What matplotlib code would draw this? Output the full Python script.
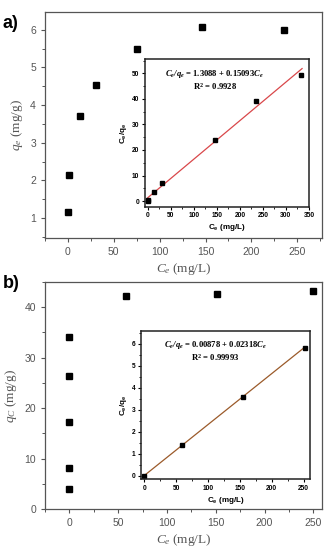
import numpy as np
import matplotlib
matplotlib.use("Agg")
import matplotlib.pyplot as plt
from matplotlib.ticker import MultipleLocator

# panel a: isotherm + linear Langmuir inset
a_ce = [0, 1, 13, 31, 75, 146, 236]
a_qe = [1.17, 2.13, 3.70, 4.53, 5.50, 6.07, 6.00]
a_in_ce = [0, 1, 13, 32, 146, 236, 333]
a_in_ratio = [0.1, 0.5, 3.4, 6.9, 24.1, 39.3, 49.3]
a_fit = (1.3088, 0.15093)
a_fit_range = (0, 335)

# panel b
b_ce = [0, 0, 0, 0, 0, 58, 151, 250]
b_qe = [4.0, 8.1, 17.2, 26.4, 34.2, 42.3, 42.7, 43.2]
b_in_ce = [0, 60, 155, 252]
b_in_ratio = [0.0, 1.4, 3.58, 5.82]
b_fit = (0.00878, 0.02318)
b_fit_range = (0, 252)

SANS = "Liberation Sans"
SERIF = "Liberation Serif"
GRAY = "#555555"

plt.rcParams["mathtext.fontset"] = "custom"
plt.rcParams["mathtext.it"] = "Liberation Serif:italic"
plt.rcParams["mathtext.rm"] = "Liberation Serif"
plt.rcParams["mathtext.bf"] = "Liberation Serif:bold"
plt.rcParams["mathtext.bfit"] = "Liberation Serif:bold:italic"
plt.rcParams["mathtext.sf"] = "Liberation Sans:bold"

fig = plt.figure(figsize=(3.31, 5.5), dpi=100)


def main_axes(rect, xs, ys, xlim, ylim, ymaj, ymin, ylab, tag, tag_y):
    ax = fig.add_axes(rect)
    ax.plot(xs, ys, "s", color="black", ms=4.3)
    ax.set_xlim(*xlim)
    ax.set_ylim(*ylim)
    ax.xaxis.set_major_locator(MultipleLocator(50))
    ax.xaxis.set_minor_locator(MultipleLocator(25))
    ax.yaxis.set_major_locator(MultipleLocator(ymaj))
    ax.yaxis.set_minor_locator(MultipleLocator(ymin))
    for s in ax.spines.values():
        s.set_color(GRAY)
        s.set_linewidth(0.9)
    ax.tick_params(which="both", direction="out", colors=GRAY, top=False, right=False)
    ax.tick_params(which="major", length=3, width=0.8, labelsize=7.5)
    ax.tick_params(which="minor", length=2, width=0.7)
    for lab in ax.get_xticklabels() + ax.get_yticklabels():
        lab.set_fontfamily(SANS)
    ax.set_xlabel(r"$C_e$ (mg/L)", fontsize=9.5, family=SERIF, color=GRAY, labelpad=3)
    ax.set_ylabel(ylab, fontsize=9.5, family=SERIF, color=GRAY, labelpad=4)
    fig.text(0.008, tag_y, tag, fontsize=13, fontweight="bold", family=SANS, va="center")
    return ax


def inset_axes(rect, xs, ys, fit, frange, color, xlim, ylim, xmaj, ymaj, ymin, eq, eqpos):
    ax = fig.add_axes(rect)
    xf = np.array(frange)
    ax.plot(xf, fit[0] + fit[1] * xf, color=color, lw=0.9)
    ax.plot(xs, ys, "s", color="black", ms=3)
    ax.set_xlim(*xlim)
    ax.set_ylim(*ylim)
    ax.xaxis.set_major_locator(MultipleLocator(xmaj))
    ax.xaxis.set_minor_locator(MultipleLocator(xmaj / 2))
    ax.yaxis.set_major_locator(MultipleLocator(ymaj))
    ax.yaxis.set_minor_locator(MultipleLocator(ymin))
    for s in ax.spines.values():
        s.set_color("#222222")
        s.set_linewidth(1.1)
    ax.tick_params(which="both", direction="out", top=False, right=False)
    ax.tick_params(which="major", length=2.5, width=0.8, labelsize=4.8, pad=1.5)
    ax.tick_params(which="minor", length=1.5, width=0.6)
    for lab in ax.get_xticklabels() + ax.get_yticklabels():
        lab.set_fontfamily(SANS)
        lab.set_fontweight("bold")
    ax.set_xlabel(r"$\mathsf{C_e}$ (mg/L)", fontsize=5.8, family=SANS, fontweight="bold", labelpad=2)
    ax.set_ylabel(r"$\mathsf{C_e/q_e}$", fontsize=5.8, family=SANS, fontweight="bold", labelpad=2)
    # equation and R^2 as one two-line block
    ax.text(eqpos[0], eqpos[1], eq, transform=ax.transAxes, ha="center", va="center",
            multialignment="center", linespacing=1.05,
            fontsize=6.2, family=SERIF, fontweight="bold")
    return ax


main_axes([0.136, 0.5673, 0.837, 0.4114], a_ce, a_qe, (-25, 277), (0.47, 6.48),
          1, 0.5, r"$q_e$ (mg/g)", "a)", 0.958)
inset_axes([0.438, 0.6242, 0.4955, 0.268], a_in_ce, a_in_ratio, a_fit, a_fit_range,
           "#d9474a", (-6, 350), (-2.2, 55.5), 50, 10, 5,
           "$\\mathbfit{C_e/q_e}$ = 1.3088 + 0.15093$\\mathbfit{C_e}$\n"
           "R$^{\\mathbf{2}}$ = 0.9928", (0.425, 0.86))

main_axes([0.136, 0.0745, 0.837, 0.4127], b_ce, b_qe, (-25, 259), (0, 45),
          10, 5, r"$q_C$ (mg/g)", "b)", 0.485)
inset_axes([0.426, 0.1285, 0.5106, 0.2697], b_in_ce, b_in_ratio, b_fit, b_fit_range,
           "#9b5a2a", (-5, 260), (-0.16, 6.58), 50, 1, 0.5,
           "$\\mathbfit{C_e/q_e}$ = 0.00878 + 0.02318$\\mathbfit{C_e}$\n"
           "R$^{\\mathbf{2}}$ = 0.99993", (0.44, 0.865))

fig.savefig("out.png", dpi=100)
